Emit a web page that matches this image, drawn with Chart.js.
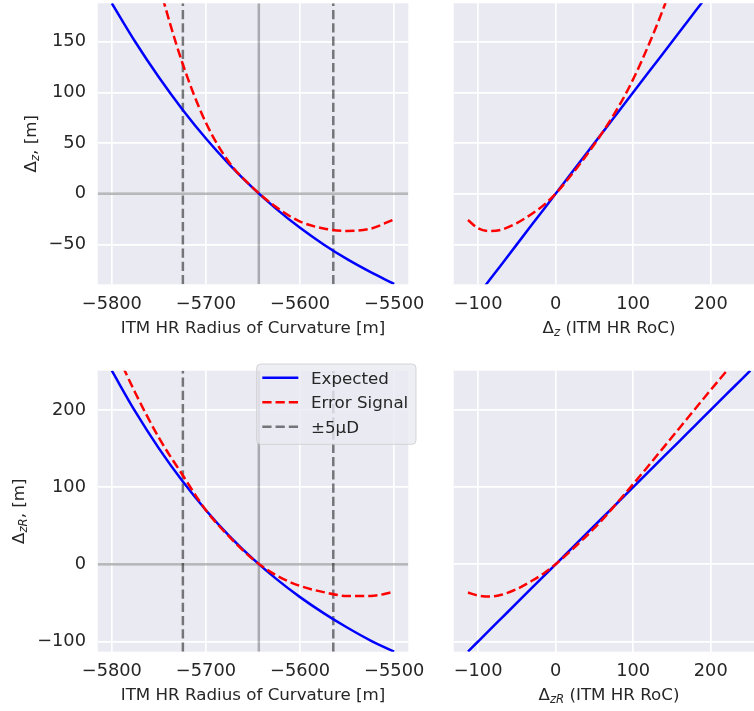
<!DOCTYPE html>
<html><head><meta charset="utf-8">
<script src="https://cdn.jsdelivr.net/npm/chart.js@4.4.1/dist/chart.umd.min.js"></script>
<style>
html,body{margin:0;padding:0;background:#fff;overflow:hidden;}
#wrap{position:relative;width:754px;height:711px;overflow:hidden;background:#fff;}
canvas{position:absolute;}
</style></head><body>
<div id="wrap">
<canvas id="tl" width="440" height="345" style="left:0px;top:0px"></canvas>
<canvas id="tr" width="360" height="345" style="left:430px;top:0px"></canvas>
<canvas id="bl" width="440" height="366" style="left:0px;top:345px"></canvas>
<canvas id="br" width="360" height="366" style="left:430px;top:345px"></canvas>
</div>
<script>
// ---------- data ----------
const rocGrid      = [-5800, -5775, -5750, -5725, -5700, -5675, -5650, -5625, -5600, -5575, -5550, -5525, -5500];
const expectedDz   = [187.9, 149.7, 114.9, 83.2, 54.5, 28.7, 5.5, -15.2, -33.7, -50.1, -64.6, -77.4, -89.0];
const errorDz      = [410, 300, 207, 129, 70, 30.5, 5.8, -13.5, -27.5, -34.3, -36.8, -34.5, -25.3];
const expectedDzR  = [250.8, 197.7, 150.2, 107.8, 70.1, 36.6, 7.0, -19.2, -42.5, -63.2, -81.9, -98.8, -113.2];
const errorDzR     = [287, 222, 164, 116, 70, 35.5, 6.5, -14.5, -28, -36, -41, -41, -35.5];

const dzAxis       = [-113, -100, -85, -70, -50, -30, -15, 0, 15, 30, 45, 60, 75, 90, 105, 120, 135, 150, 165, 180, 195];
const expectedVsDz = [-113, -100, -85, -70, -50, -30, -15, 0, 15, 30, 45, 60, 75, 90, 105, 120, 135, 150, 165, 180, 195];
const errorVsDz    = [-26, -34, -36.8, -35.5, -29, -19.5, -11, 0, 13.5, 28, 43.5, 60, 78, 98, 121, 147, 175, 206, 240, 276, 314];

const dzRAxis       = [-113, -100, -85, -70, -50, -30, -15, 0, 20, 40, 60, 80, 100, 120, 140, 160, 180, 200, 220, 240, 251];
const expectedVsDzR = [-113, -100, -85, -70, -50, -30, -15, 0, 20, 40, 60, 80, 100, 120, 140, 160, 180, 200, 220, 240, 251];
const errorVsDzR    = [-36.5, -40.5, -41.8, -39.5, -32, -21, -11.5, 0, 18, 37, 57.5, 80.5, 104, 128, 152.5, 177, 201.5, 226, 250, 274, 287];

const rocCenter  = -5643.8;
const rocBounds  = [-5724.5, -5564.7];

const rocLimits   = [-5815, -5485];
const dzLimits    = [-89.4, 187.9];
const dzRLimits   = [-113.2, 250.8];
const deltaLimits = [-131.4, 269.0];

const rocTicks   = [-5800, -5700, -5600, -5500];
const dzTicks    = [-50, 0, 50, 100, 150];
const dzRTicks   = [-100, 0, 100, 200];
const deltaTicks = [-100, 0, 100, 200];

const seriesLabels = ['Expected', 'Error Signal', '\u00b15\u03bcD'];

// ---------- style ----------
const FONT = '"DejaVu Sans", sans-serif';
const TEXT = '#262626';
const BG = '#EAEAF2';
const TICK_PX = 17.8, LABEL_PX = 16.7;
const LW = 2.5;
const DASH = [9.25, 4];

function pts(xs, ys) { return xs.map((x, i) => ({x: x, y: ys[i]})); }
function fmt(v) { return v < 0 ? '\u2212' + Math.abs(v) : String(v); }

function drawPieces(ctx, pieces, cx, cy, rot) {
  const fs = LABEL_PX, sfs = LABEL_PX * 0.7;
  ctx.save();
  ctx.translate(cx, cy);
  ctx.rotate(rot);
  ctx.fillStyle = TEXT;
  ctx.textBaseline = 'alphabetic';
  ctx.textAlign = 'left';
  const fonts = pieces.map(p => p.sub ? `italic ${sfs}px ${FONT}` : `${fs}px ${FONT}`);
  let total = 0;
  const widths = pieces.map((p, i) => { ctx.font = fonts[i]; const w = ctx.measureText(p.t).width; total += w; return w; });
  let x = -total / 2;
  const base = 0.365 * fs;
  pieces.forEach((p, i) => {
    ctx.font = fonts[i];
    ctx.fillText(p.t, x, base + (p.sub ? 0.16 * fs : 0));
    x += widths[i];
  });
  ctx.restore();
}

function drawLegend(chart, L) {
  const ctx = chart.ctx;
  ctx.save();
  const r = 4;
  ctx.beginPath();
  ctx.moveTo(L.x + r, L.y);
  ctx.lineTo(L.x + L.w - r, L.y); ctx.arcTo(L.x + L.w, L.y, L.x + L.w, L.y + r, r);
  ctx.lineTo(L.x + L.w, L.y + L.h - r); ctx.arcTo(L.x + L.w, L.y + L.h, L.x + L.w - r, L.y + L.h, r);
  ctx.lineTo(L.x + r, L.y + L.h); ctx.arcTo(L.x, L.y + L.h, L.x, L.y + L.h - r, r);
  ctx.lineTo(L.x, L.y + r); ctx.arcTo(L.x, L.y, L.x + r, L.y, r);
  ctx.closePath();
  ctx.fillStyle = 'rgba(234,234,242,0.8)';
  ctx.fill();
  ctx.strokeStyle = 'rgba(204,204,204,0.8)';
  ctx.lineWidth = 1;
  ctx.stroke();
  L.items.forEach((idx, i) => {
    const ds = chart.data.datasets[idx];
    const yRow = L.y + L.first + i * L.gap;
    ctx.beginPath();
    ctx.setLineDash(ds.borderDash || []);
    ctx.lineCap = 'butt';
    ctx.strokeStyle = ds.borderColor;
    ctx.lineWidth = ds.borderWidth;
    ctx.moveTo(L.x + 5.6, yRow);
    ctx.lineTo(L.x + 41.6, yRow);
    ctx.stroke();
    ctx.setLineDash([]);
    ctx.fillStyle = TEXT;
    ctx.font = `${LABEL_PX}px ${FONT}`;
    ctx.textBaseline = 'alphabetic';
    ctx.textAlign = 'left';
    ctx.fillText(ds.label, L.x + 54.3, yRow + 0.365 * LABEL_PX);
  });
  ctx.restore();
}

const panelPlugin = {
  id: 'panel',
  beforeDraw(chart) {
    const {ctx, chartArea: a} = chart;
    ctx.save();
    ctx.fillStyle = BG;
    ctx.fillRect(a.left, a.top, a.right - a.left, a.bottom - a.top);
    ctx.restore();
  },
  afterDraw(chart, args, opts) {
    const {ctx, chartArea: a} = chart;
    if (opts.xTitle) drawPieces(ctx, opts.xTitle, (a.left + a.right) / 2, a.bottom + 42.5, 0);
    if (opts.yTitle) drawPieces(ctx, opts.yTitle, opts.yTitleX, (a.top + a.bottom) / 2, -Math.PI / 2);
    if (opts.legend) drawLegend(chart, opts.legend);
  }
};

function curve(label, xs, ys, color, dash, order) {
  return {label: label, data: pts(xs, ys), borderColor: color, borderWidth: LW, borderDash: dash || [],
          pointRadius: 0, fill: false, cubicInterpolationMode: 'monotone', clip: 0, order: order, borderCapStyle: 'butt'};
}
function straight(label, p0, p1, color, dash, order) {
  return {label: label, data: [p0, p1], borderColor: color, borderWidth: LW, borderDash: dash || [],
          pointRadius: 0, fill: false, tension: 0, clip: 0, order: order, borderCapStyle: 'butt'};
}

function leftDatasets(yExp, yErr, ylim) {
  const gray = 'rgba(0,0,0,0.27)', dgray = 'rgba(0,0,0,0.5)';
  return [
    curve(seriesLabels[0], rocGrid, yExp, '#0000FF', null, 1),
    curve(seriesLabels[1], rocGrid, yErr, '#FF0000', DASH, 0),
    straight(seriesLabels[2], {x: rocBounds[0], y: ylim[0]}, {x: rocBounds[0], y: ylim[1]}, dgray, DASH, 2),
    straight('', {x: rocBounds[1], y: ylim[0]}, {x: rocBounds[1], y: ylim[1]}, dgray, DASH, 2),
    straight('', {x: rocLimits[0], y: 0}, {x: rocLimits[1], y: 0}, gray, null, 3),
    straight('', {x: rocCenter, y: ylim[0]}, {x: rocCenter, y: ylim[1]}, gray, null, 3)
  ];
}

function panel(id, o) {
  const zeroPad = s => { s.paddingLeft = 0; s.paddingRight = 0; s.paddingTop = 0; s.paddingBottom = 0; };
  return new Chart(document.getElementById(id), {
    type: 'line',
    data: {datasets: o.datasets},
    options: {
      responsive: false, animation: false, events: [],
      layout: {padding: o.padding, autoPadding: false},
      plugins: {legend: {display: false}, tooltip: {enabled: false}, panel: o.deco},
      scales: {
        x: {
          type: 'linear', min: o.xlim[0], max: o.xlim[1],
          afterBuildTicks: s => { s.ticks = o.xticks.map(v => ({value: v})); },
          afterFit: s => { s.height = o.xh; zeroPad(s); },
          grid: {color: '#ffffff', lineWidth: 1.67, drawTicks: false},
          border: {display: false},
          ticks: {autoSkip: false, maxRotation: 0, minRotation: 0, padding: 9, color: TEXT,
                  font: {family: FONT, size: TICK_PX}, callback: v => fmt(v)}
        },
        y: {
          type: 'linear', min: o.ylim[0], max: o.ylim[1],
          afterBuildTicks: s => { s.ticks = o.yticks.map(v => ({value: v})); },
          afterFit: s => { s.width = o.yw; zeroPad(s); },
          grid: {color: '#ffffff', lineWidth: 1.67, drawTicks: false},
          border: {display: false},
          ticks: {display: o.yLabels, autoSkip: false, padding: 11.7, color: TEXT,
                  font: {family: FONT, size: TICK_PX}, callback: v => fmt(v)}
        }
      }
    },
    plugins: [panelPlugin]
  });
}

const subZ = [{t: '\u0394'}, {t: 'z', sub: true}];
const subZR = [{t: '\u0394'}, {t: 'zR', sub: true}];

panel('tl', {
  datasets: leftDatasets(expectedDz, errorDz, dzLimits),
  padding: {left: 0, top: 3.3, right: 31.7, bottom: 0}, yw: 97.7, xh: 60.7,
  xlim: rocLimits, ylim: dzLimits, xticks: rocTicks, yticks: dzTicks, yLabels: true,
  deco: {xTitle: [{t: 'ITM HR Radius of Curvature [m]'}], yTitle: subZ.concat([{t: ', [m]'}]), yTitleX: 30}
});
panel('tr', {
  datasets: [
    curve(seriesLabels[0], dzAxis, expectedVsDz, '#0000FF', null, 1),
    curve(seriesLabels[1], dzAxis, errorVsDz, '#FF0000', DASH, 0)
  ],
  padding: {left: 0, top: 3.3, right: 25.7, bottom: 0}, yw: 23.7, xh: 60.7,
  xlim: deltaLimits, ylim: dzLimits, xticks: deltaTicks, yticks: dzTicks, yLabels: false,
  deco: {xTitle: subZ.concat([{t: ' (ITM HR RoC)'}])}
});
panel('bl', {
  datasets: leftDatasets(expectedDzR, errorDzR, dzRLimits),
  padding: {left: 0, top: 25.7, right: 31.7, bottom: 0}, yw: 97.7, xh: 59.3,
  xlim: rocLimits, ylim: dzRLimits, xticks: rocTicks, yticks: dzRTicks, yLabels: true,
  deco: {xTitle: [{t: 'ITM HR Radius of Curvature [m]'}], yTitle: subZR.concat([{t: ', [m]'}]), yTitleX: 18,
         legend: {x: 256.7, y: 19, w: 159.3, h: 80.3, first: 13.7, gap: 24.5, items: [0, 1, 2]}}
});
panel('br', {
  datasets: [
    curve(seriesLabels[0], dzRAxis, expectedVsDzR, '#0000FF', null, 1),
    curve(seriesLabels[1], dzRAxis, errorVsDzR, '#FF0000', DASH, 0)
  ],
  padding: {left: 0, top: 25.7, right: 25.7, bottom: 0}, yw: 23.7, xh: 59.3,
  xlim: deltaLimits, ylim: dzRLimits, xticks: deltaTicks, yticks: dzRTicks, yLabels: false,
  deco: {xTitle: subZR.concat([{t: ' (ITM HR RoC)'}])}
});
</script>
</body></html>
